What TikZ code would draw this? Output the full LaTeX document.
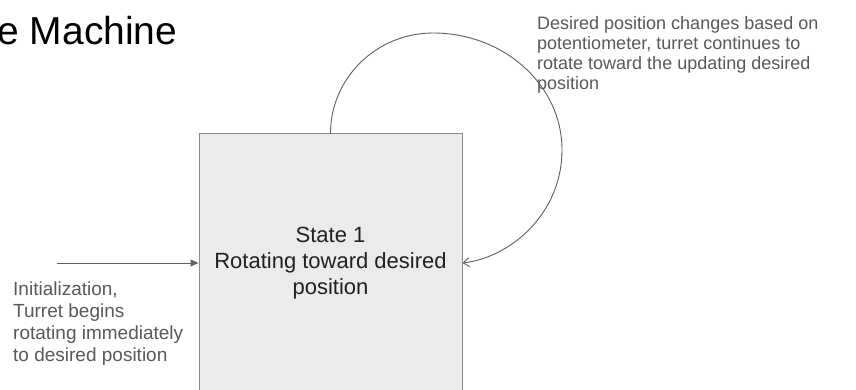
\documentclass[tikz,border=0pt]{standalone}
\usepackage{fontspec}
\setmainfont{Liberation Sans}
\usetikzlibrary{arrows.meta}
\definecolor{boxfill}{HTML}{EBEBEB}
\definecolor{boxline}{HTML}{8A8A8A}
\definecolor{notegray}{HTML}{595959}
\definecolor{linegray}{HTML}{5F5F5F}
\begin{document}
\begin{tikzpicture}[x=1pt,y=-1pt,
  statebox/.style={draw=boxline, fill=boxfill, line width=1pt, align=center,
    inner sep=0pt, minimum width=263pt, minimum height=258pt,
    font=\fontsize{22}{25.7}\selectfont, text=black!87},
  titletext/.style={inner sep=0pt, font=\fontsize{39}{44}\selectfont, text=black},
  notetext/.style={inner sep=0pt, align=left, text=notegray},
  inarrow/.style={draw=linegray, line width=1pt, -{Triangle[length=8pt,width=7pt]}},
  looparrow/.style={draw=linegray, line width=0.9pt, -{Straight Barb[length=6pt,width=9pt]}}
]
\useasboundingbox (0,0) rectangle (856,390);
\clip (0,0) rectangle (856,390);
\fill[white] (0,0) rectangle (856,390);

\node[titletext, anchor=base east] (title) at (177.5,44.3) {State Machine};

\node[statebox] (state) at (330.5,263) {State 1\\Rotating toward desired\\position};

\node[notetext, anchor=base west, font=\fontsize{19}{22.2}\selectfont] (initnote) at (13,361.7)
  {Initialization,\\Turret begins\\rotating immediately\\to desired position};

\node[notetext, anchor=base west, font=\fontsize{18}{20.3}\selectfont] (loopnote) at (537,90)
  {Desired position changes based on\\potentiometer, turret continues to\\rotate toward the updating desired\\position};

\coordinate (initstart) at (57,263);
\coordinate (looptop) at (433,33);
\coordinate (loopright) at (562,150);

\draw[inarrow] (initstart) -- (state.west);
\draw[looparrow] (state.north) .. controls +(0,-56) and +(-56,0) .. (looptop)
  .. controls +(71,0) and +(0,-65) .. (loopright)
  .. controls +(0,62) and +(50,-6) .. (state.east);
\end{tikzpicture}
\end{document}
